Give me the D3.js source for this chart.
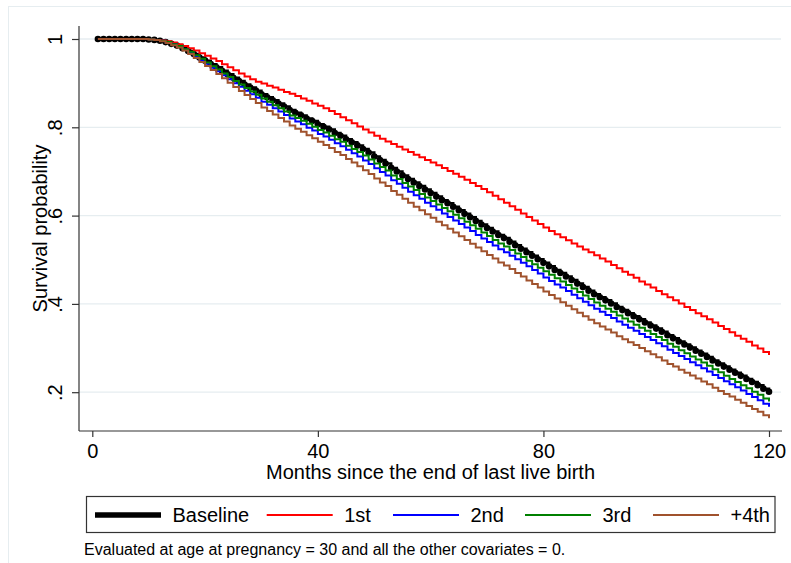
<!DOCTYPE html>
<html>
<head>
<meta charset="utf-8">
<script src="https://cdn.jsdelivr.net/npm/d3@7"></script>
<style>
  html, body { margin: 0; padding: 0; background: #fff; }
  svg { display: block; }
  text { font-family: "Liberation Sans", Arial, Helvetica, sans-serif; fill: #000; }
</style>
</head>
<body>
<svg id="chart" width="791" height="563"></svg>
<script>
// ---------------- Data ----------------
const months = d3.range(1, 121);

const baseline = [
  1,1,1,1,1,1,1,1,1,0.999,
  0.998,0.996,0.993,0.989,0.985,0.979,0.973,0.966,0.958,0.951,
  0.943,0.936,0.928,0.920,0.912,0.905,0.897,0.890,0.883,0.875,
  0.868,0.861,0.854,0.847,0.839,0.833,0.827,0.820,0.814,0.807,
  0.801,0.795,0.787,0.781,0.773,0.766,0.759,0.751,0.743,0.734,
  0.726,0.718,0.708,0.700,0.691,0.683,0.675,0.667,0.659,0.651,
  0.643,0.635,0.628,0.620,0.612,0.604,0.596,0.588,0.580,0.572,
  0.564,0.556,0.549,0.541,0.533,0.525,0.517,0.509,0.501,0.493,
  0.485,0.477,0.470,0.462,0.454,0.446,0.438,0.430,0.422,0.415,
  0.408,0.401,0.393,0.386,0.379,0.372,0.365,0.358,0.351,0.344,
  0.337,0.329,0.322,0.315,0.308,0.301,0.294,0.287,0.280,0.272,
  0.265,0.258,0.251,0.244,0.237,0.230,0.223,0.216,0.208,0.201
];

const first = [
  1,1,1,1,1,1,1,1,1,0.999,
  0.998,0.997,0.995,0.992,0.988,0.984,0.979,0.974,0.968,0.962,
  0.956,0.950,0.943,0.936,0.929,0.922,0.915,0.909,0.903,0.899,
  0.894,0.890,0.885,0.880,0.876,0.871,0.865,0.860,0.854,0.849,
  0.843,0.837,0.830,0.823,0.816,0.809,0.802,0.795,0.788,0.781,
  0.774,0.768,0.762,0.756,0.750,0.744,0.738,0.732,0.726,0.720,
  0.714,0.708,0.701,0.695,0.688,0.681,0.674,0.667,0.660,0.653,
  0.645,0.637,0.629,0.621,0.613,0.605,0.597,0.589,0.581,0.573,
  0.565,0.558,0.551,0.544,0.537,0.530,0.523,0.517,0.510,0.503,
  0.496,0.488,0.481,0.473,0.466,0.459,0.451,0.444,0.437,0.429,
  0.422,0.415,0.408,0.401,0.393,0.386,0.379,0.372,0.365,0.358,
  0.350,0.343,0.336,0.328,0.321,0.314,0.306,0.299,0.291,0.284
];

const second = [
  1,1,1,1,1,1,1,1,1,0.999,
  0.998,0.996,0.992,0.988,0.983,0.976,0.969,0.961,0.952,0.944,
  0.935,0.927,0.918,0.909,0.900,0.892,0.883,0.875,0.867,0.858,
  0.851,0.843,0.836,0.828,0.820,0.813,0.807,0.799,0.793,0.785,
  0.779,0.772,0.764,0.757,0.749,0.741,0.734,0.725,0.717,0.707,
  0.699,0.691,0.680,0.672,0.663,0.654,0.646,0.638,0.629,0.621,
  0.613,0.605,0.597,0.589,0.581,0.573,0.565,0.556,0.548,0.540,
  0.532,0.524,0.517,0.509,0.501,0.493,0.485,0.477,0.469,0.460,
  0.452,0.444,0.437,0.429,0.421,0.413,0.405,0.397,0.389,0.382,
  0.375,0.368,0.360,0.353,0.346,0.339,0.332,0.325,0.318,0.311,
  0.304,0.296,0.289,0.282,0.275,0.268,0.261,0.254,0.247,0.239,
  0.232,0.225,0.218,0.211,0.204,0.196,0.189,0.182,0.174,0.167
];

const third = [
  1,1,1,1,1,1,1,1,1,0.999,
  0.998,0.996,0.993,0.988,0.984,0.977,0.971,0.963,0.955,0.947,
  0.938,0.931,0.922,0.914,0.905,0.897,0.889,0.881,0.874,0.865,
  0.858,0.850,0.843,0.836,0.827,0.821,0.815,0.808,0.801,0.794,
  0.788,0.781,0.773,0.767,0.758,0.751,0.744,0.736,0.727,0.718,
  0.710,0.702,0.691,0.683,0.674,0.666,0.658,0.649,0.641,0.633,
  0.625,0.617,0.610,0.602,0.594,0.586,0.578,0.570,0.562,0.554,
  0.545,0.537,0.530,0.522,0.514,0.506,0.498,0.490,0.482,0.474,
  0.466,0.458,0.451,0.443,0.435,0.427,0.419,0.411,0.403,0.396,
  0.389,0.382,0.374,0.367,0.360,0.353,0.346,0.339,0.332,0.325,
  0.318,0.310,0.303,0.295,0.288,0.281,0.274,0.267,0.260,0.252,
  0.245,0.237,0.230,0.223,0.216,0.209,0.201,0.194,0.186,0.179
];

const fourth = [
  1,1,1,1,1,1,1,1,1,0.999,
  0.998,0.995,0.991,0.986,0.981,0.974,0.966,0.957,0.948,0.939,
  0.930,0.921,0.911,0.901,0.891,0.882,0.873,0.864,0.855,0.845,
  0.837,0.829,0.821,0.813,0.804,0.797,0.790,0.782,0.775,0.767,
  0.760,0.753,0.744,0.737,0.728,0.720,0.712,0.703,0.694,0.684,
  0.675,0.667,0.656,0.647,0.638,0.629,0.620,0.612,0.603,0.595,
  0.586,0.578,0.570,0.562,0.553,0.545,0.536,0.528,0.519,0.511,
  0.503,0.494,0.487,0.479,0.470,0.462,0.453,0.445,0.437,0.428,
  0.420,0.412,0.404,0.396,0.388,0.380,0.372,0.364,0.356,0.349,
  0.342,0.335,0.327,0.320,0.313,0.307,0.300,0.293,0.286,0.279,
  0.272,0.264,0.258,0.251,0.244,0.238,0.231,0.224,0.218,0.210,
  0.203,0.196,0.190,0.183,0.176,0.169,0.162,0.156,0.148,0.141
];

const seriesNames = ["Baseline", "1st", "2nd", "3rd", "+4th"];
const seriesColors = ["#000000", "#ff0000", "#0000ff", "#008000", "#a0522d"];
const xTicks = [0, 40, 80, 120];
const yTicks = [0.2, 0.4, 0.6, 0.8, 1];
const yTickLabels = [".2", ".4", ".6", ".8", "1"];
const xTitle = "Months since the end of last live birth";
const yTitle = "Survival probability";
const note = "Evaluated at age at pregnancy = 30 and all the other covariates = 0.";

// ---------------- Layout ----------------
const svg = d3.select("#chart");
const plot = { left: 79, right: 782, top: 26, bottom: 431 };
const x = d3.scaleLinear().domain([0, 120]).range([92.3, 769]);
const y = d3.scaleLinear().domain([0.2, 1]).range([392.2, 39]);
const gridColor = "#e6edf0";
const axisColor = "#333333";
const fs = "20px";

svg.append("rect").attr("width", 791).attr("height", 563).attr("fill", "#fff");
// outer graph frame
svg.append("rect").attr("x", 8.5).attr("y", 6.5).attr("width", 800).attr("height", 600)
  .attr("fill", "none").attr("stroke", gridColor).attr("stroke-width", 1);

// gridlines
svg.append("g").selectAll("line").data(yTicks).join("line")
  .attr("x1", plot.left).attr("x2", plot.right - 1)
  .attr("y1", d => y(d)).attr("y2", d => y(d))
  .attr("stroke", gridColor).attr("stroke-width", 1.3);

// Y axis
const yAxis = d3.axisLeft(y).tickValues(yTicks).tickSize(7).tickPadding(0)
  .tickFormat((d, i) => yTickLabels[i]);
const gy = svg.append("g").attr("transform", `translate(${plot.left},0)`).call(yAxis);
gy.select(".domain").attr("d", `M0,${plot.top}V${plot.bottom}`).attr("stroke", axisColor).attr("stroke-width", 1.2);
gy.selectAll(".tick line").attr("stroke", axisColor).attr("stroke-width", 1.2);
gy.selectAll(".tick text")
  .attr("x", null).attr("dy", null)
  .attr("transform", "translate(-17,0) rotate(-90)")
  .attr("text-anchor", "middle")
  .style("font-size", fs).style("font-family", "Liberation Sans, Arial, sans-serif").attr("fill", "#000");

// X axis
const xAxis = d3.axisBottom(x).tickValues(xTicks).tickSize(6).tickPadding(0);
const gx = svg.append("g").attr("transform", `translate(0,${plot.bottom})`).call(xAxis);
gx.select(".domain").attr("d", `M${plot.left},0H${plot.right}`).attr("stroke", axisColor).attr("stroke-width", 1.2);
gx.selectAll(".tick line").attr("stroke", axisColor).attr("stroke-width", 1.2);
gx.selectAll(".tick text").attr("y", 26.5).attr("dy", null)
  .style("font-size", fs).style("font-family", "Liberation Sans, Arial, sans-serif").attr("fill", "#000");

// axis titles
svg.append("text").attr("x", (plot.left + plot.right) / 2).attr("y", 479)
  .attr("text-anchor", "middle").style("font-size", fs).text(xTitle);
svg.append("text").attr("transform", `translate(46.5,${(plot.top + plot.bottom) / 2}) rotate(-90)`)
  .attr("text-anchor", "middle").style("font-size", fs).text(yTitle);

// ---------------- Series ----------------
const allSeries = [baseline, first, second, third, fourth];
const line = d3.line().curve(d3.curveStepAfter).x(d => x(d.m)).y(d => y(d.v));
const toPts = arr => months.slice(0, arr.length).map((m, i) => ({ m, v: arr[i] }));

// baseline: thick markers + line
const basePts = toPts(baseline);
svg.append("path").attr("d", line(basePts)).attr("fill", "none")
  .attr("stroke", seriesColors[0]).attr("stroke-width", 2.5);
svg.append("g").selectAll("circle").data(basePts).join("circle")
  .attr("cx", d => x(d.m)).attr("cy", d => y(d.v)).attr("r", 3.3).attr("fill", seriesColors[0]);

for (let k = 1; k < allSeries.length; k++) {
  svg.append("path").attr("d", line(toPts(allSeries[k]))).attr("fill", "none")
    .attr("stroke", seriesColors[k]).attr("stroke-width", 2).attr("stroke-linejoin", "miter");
}

// ---------------- Legend ----------------
svg.append("rect").attr("x", 86.5).attr("y", 496.5).attr("width", 688.5).attr("height", 36)
  .attr("fill", "#fff").attr("stroke", axisColor).attr("stroke-width", 1.2);
const legendX = [95, 266.7, 393, 525, 653];
const lg = svg.append("g");
seriesNames.forEach((name, i) => {
  lg.append("line").attr("x1", legendX[i]).attr("x2", legendX[i] + 66)
    .attr("y1", 515).attr("y2", 515)
    .attr("stroke", seriesColors[i]).attr("stroke-width", i === 0 ? 5.5 : 2.2);
  lg.append("text").attr("x", legendX[i] + 77.5).attr("y", 522)
    .style("font-size", fs).text(name);
});

// note
svg.append("text").attr("x", 84).attr("y", 555).style("font-size", "16px").text(note);
</script>
</body>
</html>
